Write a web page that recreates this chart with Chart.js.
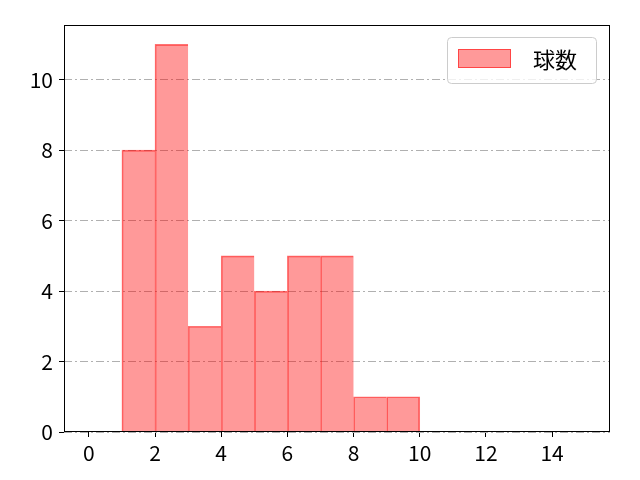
<!DOCTYPE html>
<html><head><meta charset="utf-8">
<script src="https://cdn.jsdelivr.net/npm/chart.js@4/dist/chart.umd.min.js"></script>
<style>html,body{margin:0;padding:0;background:#fff}#w{width:640px;height:480px}</style>
</head><body><div id="w"><canvas id="c"></canvas></div>
<script>
const binStarts = [1, 2, 3, 4, 5, 6, 7, 8, 9];
const counts = [8, 11, 3, 5, 4, 5, 5, 1, 1];
const xTicks = [0, 2, 4, 6, 8, 10, 12, 14];
const yTicks = [0, 2, 4, 6, 8, 10];
const seriesLabel = '球数';

const FONT = "'Noto Sans CJK JP', 'Noto Sans', sans-serif";
const FILL = 'rgba(255,0,0,0.4)';
const EDGE = 'rgba(255,0,0,0.55)';

const framePlugin = {
  id: 'frame',
  afterDraw(chart) {
    const a = chart.chartArea, ctx = chart.ctx;
    ctx.save();
    ctx.strokeStyle = '#000'; ctx.lineWidth = 1;
    ctx.strokeRect(Math.round(a.left)+0.5, Math.round(a.top)+0.5, Math.round(a.right-a.left)-1, Math.round(a.bottom-a.top)-1);
    // legend inside the plot, top right
    const bx = a.right - 163, by = a.top + 12, bw = 149, bh = 46;
    ctx.beginPath();
    ctx.roundRect(bx + 0.5, by + 0.5, bw, bh, 4);
    ctx.fillStyle = 'rgba(255,255,255,0.8)';
    ctx.fill();
    ctx.strokeStyle = '#cccccc';
    ctx.stroke();
    ctx.fillStyle = FILL;
    ctx.fillRect(bx + 11, by + 12, 53, 19);
    ctx.strokeStyle = EDGE;
    ctx.strokeRect(bx + 11.5, by + 12.5, 52, 18);
    ctx.fillStyle = '#000';
    ctx.font = '22px ' + FONT;
    ctx.textBaseline = 'middle';
    ctx.textAlign = 'left';
    ctx.fillText(seriesLabel, bx + 86, by + 23);
    ctx.restore();
  }
};

const lastIdx = counts.length - 1;
new Chart(document.getElementById('c'), {
  type: 'bar',
  data: {
    datasets: [{
      label: seriesLabel,
      data: binStarts.map((s, i) => ({ x: s + 0.5, y: counts[i] })),
      backgroundColor: FILL,
      borderColor: EDGE,
      borderWidth: (ctx) => ({ top: 1, left: 1, bottom: 0, right: ctx.dataIndex === lastIdx ? 1 : 0 }),
      barPercentage: 1,
      categoryPercentage: 1,
      borderSkipped: false
    }]
  },
  options: {
    responsive: true, maintainAspectRatio: false, animation: false,
    devicePixelRatio: 1,
    layout: { padding: { left: 0, top: 25, right: 30, bottom: 0 } },
    plugins: {
      tooltip: { enabled: false },
      legend: { display: false }
    },
    scales: {
      x: {
        type: 'linear', min: -0.75, max: 15.75, offset: false,
        afterBuildTicks(s) { s.ticks = xTicks.map(v => ({ value: v })); },
        afterFit(s) { s.height = 48; },
        grid: { offset: false, drawOnChartArea: false, drawTicks: true, tickLength: 5, tickColor: '#000' },
        border: { display: false },
        ticks: { font: { family: FONT, size: 21 }, color: '#000', padding: 3, maxRotation: 0 }
      },
      y: {
        min: 0, max: 11.55,
        afterBuildTicks(s) { s.ticks = yTicks.map(v => ({ value: v })); },
        afterFit(s) { s.width = 64; },
        grid: { color: '#b0b0b0', lineWidth: 1, tickLength: 5, tickColor: '#000' },
        border: { display: false, dash: [8, 3, 2, 3] },
        ticks: { font: { family: FONT, size: 21 }, color: '#000', padding: 6 }
      }
    }
  },
  plugins: [framePlugin]
});
</script></body></html>
